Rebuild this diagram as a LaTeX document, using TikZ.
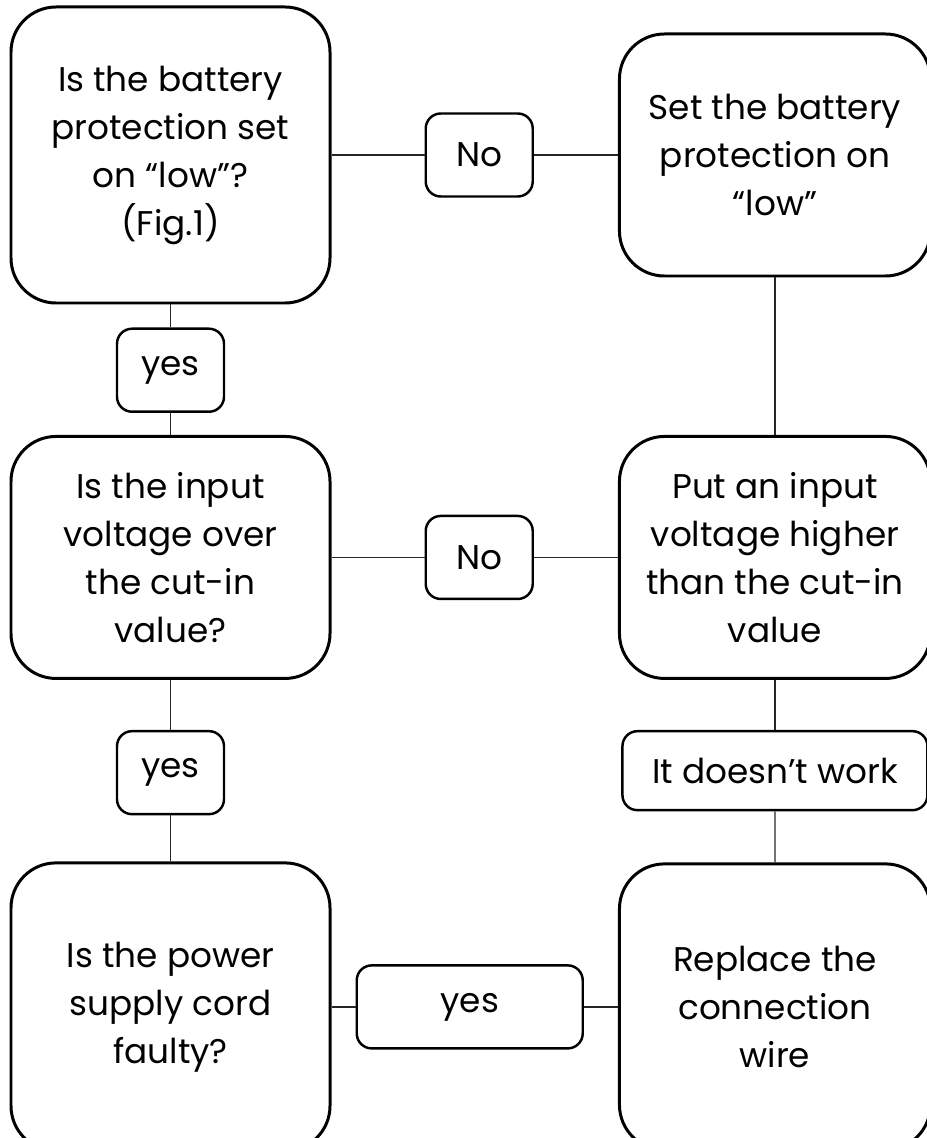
\documentclass[tikz,border=0pt]{standalone}
\usepackage{fontspec}
\setmainfont{Poppins}
\usetikzlibrary{positioning}

\begin{document}
\begin{tikzpicture}[
        node distance=1cm and 1.8cm,
        question/.style={rectangle, draw, line width=1.7pt, minimum width=6.38cm, minimum height=4.84cm, inner sep=0pt, align=center, rounded corners=0.9cm, font=\fontsize{19.5}{27.3}\selectfont},
        action/.style={rectangle, draw, line width=1.7pt, minimum width=6.22cm, minimum height=4.84cm, inner sep=0pt, align=center, rounded corners=0.9cm, font=\fontsize{19.5}{27.3}\selectfont},
        answer/.style={rectangle, draw, line width=1.4pt, minimum width=2.14cm, minimum height=1.66cm, inner sep=0pt, align=center, rounded corners=0.3cm, font=\fontsize{19.5}{27.3}\selectfont},
        connector/.style={line width=0.8pt, draw=black!85}
    ]
    \useasboundingbox (0,0) rectangle (18.52,-22.76);

    % Left column: questions
    \node[question, minimum height=5.92cm] (battery) at (3.41,-3.10) {Is the battery\\protection set\\on “low”?\\(Fig.1)};
    \node[answer] (yes1) [below=0.46cm of battery] {yes};
    \node[question] (voltage) [below=0.44cm of yes1] {Is the input\\voltage over\\the cut-in\\value?};
    \node[answer] (yes2) [below=1.0cm of voltage] {yes};
    \node[question, minimum height=5.76cm] (cord) [below=0.92cm of yes2] {Is the power\\supply cord\\faulty?};

    % Right column: actions
    \node[answer] (no1) [right=1.86cm of battery] {No};
    \node[action] (setlow) [right=1.68cm of no1] {Set the battery\\protection on\\“low”};
    \node[answer] (no2) [right=1.86cm of voltage] {No};
    \node[action] (raise) [right=1.68cm of no2] {Put an input\\voltage higher\\than the cut-in\\value};
    \node[answer, minimum width=6.1cm, minimum height=1.58cm] (fail) [below=1.0cm of raise] {It doesn’t work};
    \node[answer, minimum width=4.52cm] (yes3) [right=0.48cm of cord] {yes};
    \node[action, minimum height=5.72cm] (wire) [right=0.68cm of yes3] {Replace the\\connection\\wire};

    % Connections
    \draw[connector] (battery) -- (no1);
    \draw[connector] (no1) -- (setlow);
    \draw[connector] (battery) -- (yes1);
    \draw[connector] (yes1) -- (voltage);
    \draw[connector] (setlow) -- (raise);
    \draw[connector] (voltage) -- (no2);
    \draw[connector] (no2) -- (raise);
    \draw[connector] (voltage) -- (yes2);
    \draw[connector] (yes2) -- (cord);
    \draw[connector] (raise) -- (fail);
    \draw[connector] (fail) -- (wire);
    \draw[connector] (cord) -- (yes3);
    \draw[connector] (yes3) -- (wire);
\end{tikzpicture}
\end{document}
